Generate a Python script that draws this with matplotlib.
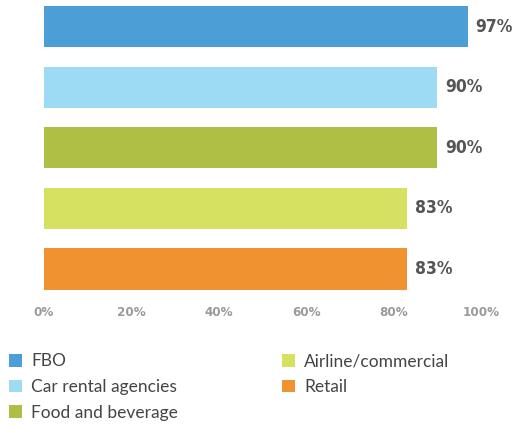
import matplotlib.pyplot as plt
from matplotlib.patches import Patch

categories = ["FBO", "Car rental agencies", "Food and beverage", "Airline/commercial", "Retail"]
values = [97, 90, 90, 83, 83]
colors = ["#4C9ED7", "#9DDBF5", "#AFBE45", "#D6E161", "#F0922F"]
tick_values = [0, 20, 40, 60, 80, 100]
tick_labels = ["0%", "20%", "40%", "60%", "80%", "100%"]

narrow = ["Liberation Sans Narrow", "DejaVu Sans"]

fig = plt.figure(figsize=(5.15, 4.25), dpi=100)
ax = fig.add_axes([0.0854, 0.310, 0.8485, 0.6845])

pos = list(range(len(categories)))
ax.barh(pos, values, height=0.68, color=colors, edgecolor="none")

# value labels to the right of each bar
for y, v in zip(pos, values):
    ax.text(v + 1.8, y, f"{v}%", va="center", ha="left", fontsize=12.5,
            fontweight="bold", fontstretch="condensed",
            family=narrow, color="#555555")

ax.set_xlim(0, 100)
ax.set_ylim(4.4, -0.4)
ax.set_yticks([])
ax.set_xticks(tick_values)
ax.set_xticklabels(tick_labels, fontsize=9.5, fontweight="bold",
                   fontstretch="condensed", family=narrow, color="#9A9A9A")
ax.tick_params(axis="x", length=0, pad=9)
for s in ax.spines.values():
    s.set_visible(False)

handles = [Patch(facecolor=c, edgecolor="none") for c in colors]
leg = fig.legend(handles, categories, loc="upper left", bbox_to_anchor=(-0.012, 0.205),
                 ncol=2, frameon=False, handlelength=0.75, handleheight=0.75,
                 handletextpad=0.5, columnspacing=6.0, labelspacing=0.55,
                 prop={"family": "Lato", "size": 12.5})
for t in leg.get_texts():
    t.set_color("#444444")

fig.savefig("out.png", dpi=100)
